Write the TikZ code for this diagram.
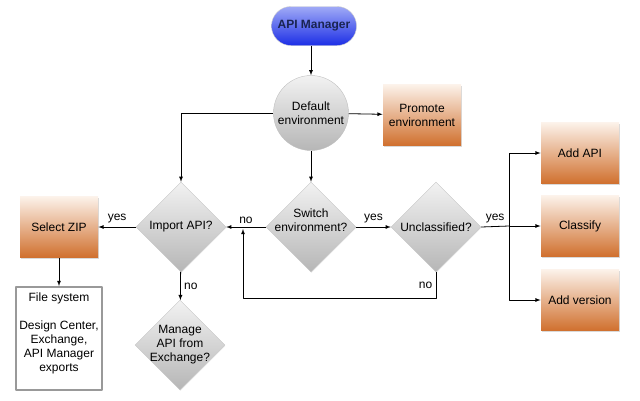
\documentclass[tikz,border=0pt]{standalone}
\usepackage{fontspec}
\setmainfont{Liberation Sans}
\usetikzlibrary{shapes.geometric,shadows,arrows}
\definecolor{boxtop}{RGB}{252,242,234}
\definecolor{boxbot}{RGB}{208,112,46}
\definecolor{greytop}{RGB}{242,242,242}
\definecolor{greybot}{RGB}{182,182,182}
\definecolor{bluetop}{RGB}{160,170,246}
\definecolor{bluebot}{RGB}{28,46,230}
\definecolor{navytext}{RGB}{26,36,82}

\begin{document}
\begin{tikzpicture}[x=1pt, y=-1pt, font=\fontsize{12}{14}\selectfont, line join=round, >=latex, line width=0.8pt,
		procbox/.style={rectangle, minimum width=78pt, minimum height=61pt, top color=boxtop, bottom color=boxbot, align=center, drop shadow={opacity=0.3, shadow xshift=1pt, shadow yshift=-1.5pt}},
		decision/.style={diamond, minimum width=90pt, minimum height=90pt, inner sep=-6pt, top color=greytop, bottom color=greybot, draw=gray!45, line width=0.4pt, align=center, drop shadow={opacity=0.15, shadow xshift=0.5pt, shadow yshift=-1pt}},
		circ/.style={circle, minimum size=75pt, inner sep=0pt, top color=greytop, bottom color=greybot, draw=gray!50, line width=0.4pt, align=center},
		terminal/.style={rectangle, rounded corners=19.5pt, minimum width=85pt, minimum height=39pt, top color=bluetop, bottom color=bluebot, draw=gray!40, line width=0.4pt, text=navytext, font=\fontsize{12}{14}\selectfont\bfseries},
		fsbox/.style={rectangle, minimum width=86pt, minimum height=103pt, fill=white, draw=gray!80, line width=2pt}]
	\useasboundingbox (0,0) rectangle (640,400);
	% nodes
	\node[terminal] (api) at (314,26) {API Manager};
	\node[circ] (dflt) at (311,113) {Default\\environment};
	\node[procbox] (prom) at (422,115) {Promote\\environment};
	\node[decision] (imp) at (181,227) {Import API?};
	\node[decision] (sw) at (311,227) {Switch\\environment?\\\mbox{}};
	\node[decision] (unc) at (436,227) {Unclassified?};
	\node[decision] (man) at (180,345) {Manage\\API from\\Exchange?};
	\node[procbox] (zip) at (59,227) {Select ZIP};
	\node[fsbox] (fs) at (59,338.5) {};
	\node[anchor=north, align=center, inner sep=0pt] (fstxt) at (59,292) {File system\\[14pt]Design Center,\\Exchange,\\API Manager\\exports};
	\node[procbox] (addapi) at (580,153) {Add API};
	\node[procbox] (clsf) at (580,226) {Classify};
	\node[procbox] (addver) at (580,300) {Add version};
	\coordinate (fork) at (509,226);
	\coordinate (back) at (243,229);
	% connectors
	\draw[->] (api.south -| dflt.north) -- (dflt);
	\draw[->] (dflt) -- (prom);
	\draw[->] (dflt.west) -| (imp.north);
	\draw[->] (dflt) -- (sw);
	\draw[->] (sw) -- node[above]{no} (imp);
	\draw[->] (sw) -- node[above]{yes} (unc);
	\draw (unc.east) -- node[above]{yes} (fork);
	\draw[->] (fork) |- (addapi);
	\draw[->] (fork) -- (clsf);
	\draw[->] (fork) |- (addver);
	\draw[->] (unc.south) -- node[left]{no} ++(0,26) -| (back);
	\draw[->] (imp) -- node[above]{yes} (zip);
	\draw[->] (imp) -- node[right]{no} (man);
	\draw[->] (zip) -- (fs);
\end{tikzpicture}
\end{document}
